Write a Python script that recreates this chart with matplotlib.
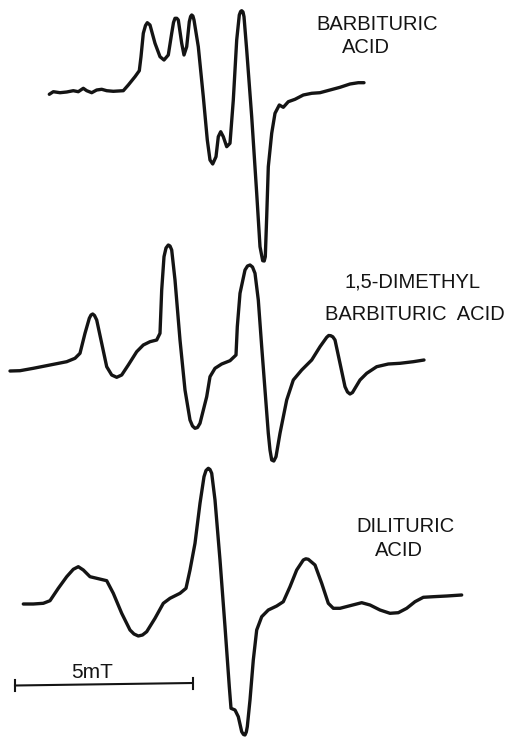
import matplotlib
matplotlib.use("Agg")
import matplotlib.pyplot as plt

# ---------------------------------------------------------------------------
# ESR spectra (field position, signal; y grows downward)
# ---------------------------------------------------------------------------
barb_field = [49.3, 53.3, 60, 66.7, 73.3, 78.3, 83.3, 86.7, 91.7, 96.7, 101.7, 106.7,
              113.3, 123.3, 128.3, 135, 139.3, 141, 143.3, 145.5, 147.3, 150, 155, 160,
              164, 168.3, 171.7, 173.5, 175, 176.8, 178.3, 181.7, 184, 186.7, 189.3,
              190.6, 191.7, 192.9, 194, 198.3, 203.3, 207.3, 210, 212.7, 216, 218.3,
              220.7, 223.3, 226.7, 230, 233.3, 236.7, 239.3, 240.6, 241.7, 243, 244,
              246.7, 251.7, 256.7, 260, 262.7, 264.2, 265.3, 266.7, 268.3, 271.7, 275,
              279.3, 283.3, 288.3, 295, 303.3, 311.7, 320, 330, 340, 350, 358.3, 364]
barb_signal = [94.3, 91.7, 92.7, 92, 90.7, 91.7, 88.3, 90.7, 92.7, 90, 89.3, 90.7,
               91.3, 90.7, 85, 76.7, 70.7, 56.7, 33.3, 25.5, 22.7, 25, 43.3, 56.7,
               60, 55, 33.3, 22.5, 18.3, 18.3, 20, 43.3, 55, 46.7, 21.7,
               16.5, 15, 16, 20, 46.7, 96.7, 140, 160, 164, 156.7, 136.7,
               131.7, 136.7, 146.7, 143.3, 100, 40, 15, 11.5, 10.7, 12, 16.7,
               50, 116.7, 193.3, 246.7, 260.7, 261, 256.7, 216.7, 166.7, 133.3, 113.3,
               105, 107.3, 101.7, 99.3, 95, 93.3, 92.7, 90, 87.3, 84, 82.7, 82.7]

dimethyl_field = [10, 20, 33.3, 50, 66.7, 75, 80, 85, 89.3, 91, 92.7, 94.5, 96.7, 101.7,
                  106.7, 111.7, 116.7, 121.7, 128.3, 136.7, 143.3, 150, 156.7, 160,
                  161.7, 164, 166, 168.3, 170, 171.7, 175, 180, 185, 190, 192.5, 195,
                  197.5, 200, 206.7, 210, 215, 221.7, 230, 236, 237.3, 240, 245, 247.5,
                  250, 252.5, 255, 258.3, 261.7, 265, 268.3, 270, 271.7, 273.8, 276,
                  280, 286.7, 293.3, 301.7, 311.7, 320, 326.7, 328.7, 330.7, 332.8, 335,
                  340, 345, 347.5, 350, 352.5, 355, 360, 366.7, 376.7, 388.3, 400,
                  413.3, 424]
dimethyl_signal = [371, 370.7, 368.3, 365, 361.7, 358.3, 353.3, 333.3, 318.3, 315, 314,
                   315.5, 320, 343.3, 366.7, 375, 377.3, 375, 365, 351.7, 345, 341.7,
                   340, 333.3, 290, 256.7, 248, 245, 246, 250, 280, 340, 390, 420, 426,
                   428.3, 427.5, 423.3, 396.7, 376.7, 368.3, 364, 360.7, 355, 326.7,
                   293.3, 270, 266, 265, 267, 273.3, 300, 346.7, 390, 433.3, 450, 460,
                   461, 456.7, 433.3, 400, 380, 370, 360, 346.7, 337.3, 335.5, 335.7,
                   336.8, 340, 363.3, 386.7, 392, 394, 392.5, 388.3, 380, 373.3, 366.7,
                   364, 363.3, 361.7, 360]

dilituric_field = [23.3, 33.3, 43.3, 50, 58.3, 66.7, 73.3, 78.3, 83.3, 90, 96.7, 106.7,
                   113.3, 121.7, 130, 134, 138.3, 142.5, 146.7, 155, 163.3, 170, 180,
                   186, 190, 195, 200, 204, 206, 208.3, 210, 211.7, 215, 220, 225,
                   229.3, 231, 235, 238.3, 241.7, 243.5, 245, 246.3, 247.3, 250, 253.3,
                   256.7, 261.7, 268.3, 276.7, 283.3, 290, 296.7, 303.3, 305.8, 308.3,
                   315, 321.7, 328.3, 333.3, 340, 350, 361.7, 370, 380, 390, 398.3,
                   406.7, 415, 423.3, 433.3, 446.7, 461.7]
dilituric_signal = [604, 604, 603.3, 600.7, 588.3, 576.7, 569.3, 566.7, 570, 576.7, 578.3,
                    580.7, 593.3, 613.3, 630, 634, 636, 635, 631.7, 618.3, 603.3, 598.3,
                    593.3, 588.3, 570, 543.3, 503.3, 476.7, 470.5, 468.3, 469.5, 473.3,
                    500, 560, 626.7, 686.7, 708.3, 710, 716.7, 731.7, 734.5, 735,
                    732, 726.7, 700, 660, 630, 616.7, 610, 606, 601.7, 586.7, 570, 560,
                    558.8, 559.3, 565, 583.3, 603.3, 608.3, 608.3, 605.7, 602.7, 605,
                    610, 613.3, 612.7, 608.3, 601.7, 597.3, 596.7, 596, 595]

scale_bar_field = [15, 192.7]
scale_bar_level = [685.5, 683]
scale_bar_label = "5mT"

FONT = ["Liberation Sans", "DejaVu Sans"]
INK = "#141414"

fig = plt.figure(figsize=(5.08, 7.38), dpi=100)
ax = fig.add_axes([0, 0, 1, 1])
ax.set_xlim(0, 508)
ax.set_ylim(738, 0)
ax.axis("off")

for xs, ys in ((barb_field, barb_signal),
               (dimethyl_field, dimethyl_signal),
               (dilituric_field, dilituric_signal)):
    ax.plot(xs, ys, color=INK, lw=2.4, solid_joinstyle="round", solid_capstyle="round")

# scale bar with end ticks
ax.plot(scale_bar_field, scale_bar_level, color=INK, lw=1.5)
for x, y in zip(scale_bar_field, scale_bar_level):
    ax.plot([x, x], [y - 5.5, y + 5.5], color=INK, lw=1.5)
ax.text(92.5, 673, scale_bar_label, ha="center", va="center", fontsize=15,
        family=FONT, color=INK)

# compound names
kw = dict(ha="left", va="center", fontsize=14.5, family=FONT, color=INK)
ax.text(316.7, 24.5, "BARBITURIC", **kw)
ax.text(341.7, 47.5, "ACID", **kw)
ax.text(345, 282.5, "1,5-DIMETHYL", **kw)
ax.text(325, 315, "BARBITURIC  ACID", **kw)
ax.text(356.7, 526, "DILITURIC", **kw)
ax.text(375, 551, "ACID", **kw)

fig.savefig("out.png", dpi=100, facecolor="white")
